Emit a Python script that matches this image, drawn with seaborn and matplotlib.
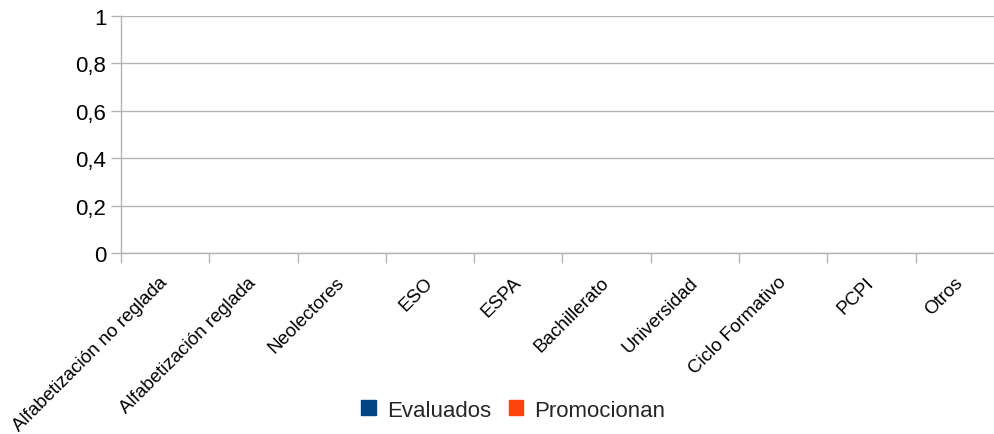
import numpy as np
import pandas as pd
import matplotlib
matplotlib.use('Agg')
import matplotlib.pyplot as plt
import seaborn as sns
from matplotlib.ticker import FuncFormatter, FixedLocator

sns.set_style('white')
plt.rcParams['font.family'] = ['Liberation Sans', 'DejaVu Sans']

# datos (todos en cero en el original)
categorias = ['Alfabetización no reglada', 'Alfabetización reglada', 'Neolectores', 'ESO', 'ESPA',
              'Bachillerato', 'Universidad', 'Ciclo Formativo', 'PCPI', 'Otros']
evaluados = [0, 0, 0, 0, 0, 0, 0, 0, 0, 0]
promocionan = [0, 0, 0, 0, 0, 0, 0, 0, 0, 0]
series = ['Evaluados', 'Promocionan']
colores = ['#004586', '#ff420e']

df = pd.DataFrame({'categoria': categorias * 2,
                   'valor': evaluados + promocionan,
                   'serie': [series[0]] * len(categorias) + [series[1]] * len(categorias)})

fig = plt.figure(figsize=(9.95, 4.35), dpi=100)
ax = fig.add_axes([0.1216, 0.416, 0.8874, 0.545])
sns.barplot(data=df, x='categoria', y='valor', hue='serie', palette=colores, ax=ax, legend=False)

gris = '#b3b3b3'
ax.set_ylim(0, 1)
ax.set_xlim(-0.5, len(categorias) - 0.5)
ax.set_yticks(np.arange(0, 1.01, 0.2))
ax.yaxis.set_major_formatter(FuncFormatter(lambda v, p: ('%g' % round(v, 1)).replace('.', ',')))
ax.yaxis.grid(True, color=gris, lw=1)
ax.set_axisbelow(True)
for s in ['top', 'right']:
    ax.spines[s].set_visible(False)
for s in ['left', 'bottom']:
    ax.spines[s].set_color(gris)
    ax.spines[s].set_linewidth(1)
ax.tick_params(axis='y', length=7, color=gris, width=1, labelsize=16, pad=3.5, left=True,
               labelcolor='black')

# ticks del eje x en los limites de categoria, etiquetas en el centro
ax.xaxis.set_major_locator(FixedLocator(np.arange(-0.5, len(categorias), 1)))
ax.xaxis.set_major_formatter(FuncFormatter(lambda v, p: ''))
ax.xaxis.set_minor_locator(FixedLocator(np.arange(len(categorias))))
ax.set_xticklabels(categorias, minor=True)
ax.tick_params(axis='x', which='major', length=7, color=gris, width=1, bottom=True)
ax.tick_params(axis='x', which='minor', length=0, labelsize=13.5, pad=19, labelcolor='black')
for t in ax.get_xticklabels(minor=True):
    t.set_rotation(45)
    t.set_ha('right')
    t.set_va('center')
    t.set_rotation_mode('anchor')
ax.set_xlabel('')
ax.set_ylabel('')

handles = [plt.Rectangle((0, 0), 1, 1, color=c) for c in colores]
fig.legend(handles, series, loc='center', bbox_to_anchor=(0.516, 0.055), ncol=2, frameon=False,
           fontsize=16, handlelength=0.65, handleheight=0.65, handletextpad=0.5, columnspacing=0.8)

fig.savefig('out.png', dpi=100)
